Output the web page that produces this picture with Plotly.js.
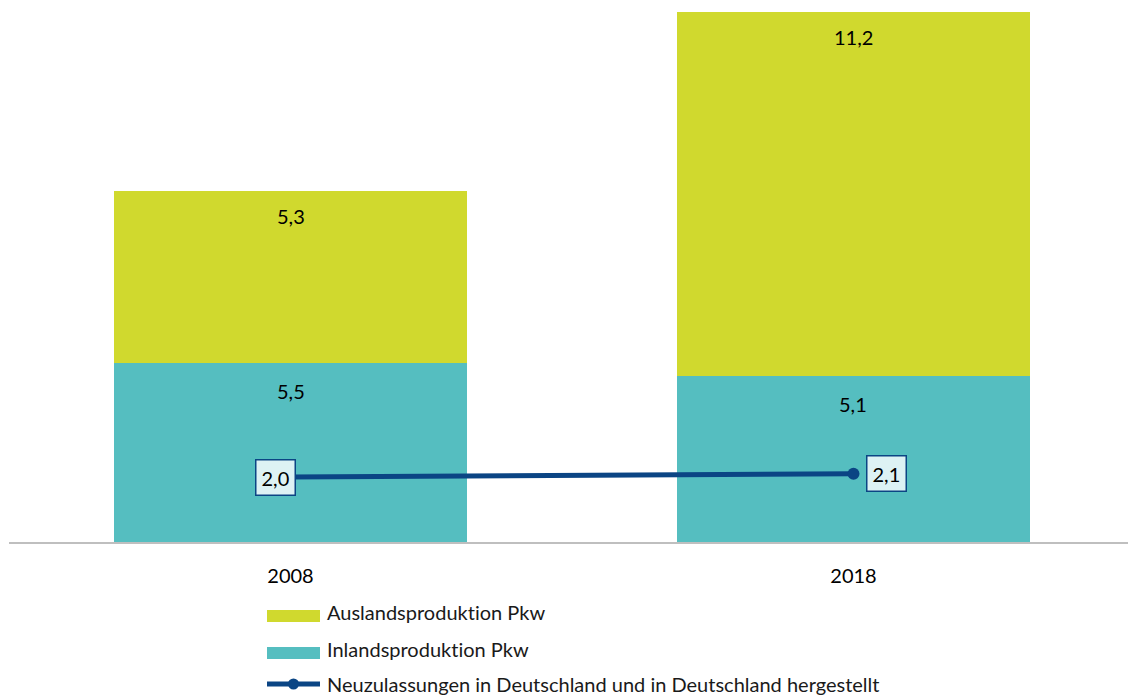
<!DOCTYPE html>
<html>
<head>
<meta charset="utf-8">
<script src="https://cdn.plot.ly/plotly-3.0.1.min.js"></script>
<style>html,body{margin:0;padding:0;background:#fff;}#chart{width:1128px;height:695px;}
svg text{font-variant-ligatures:none;font-feature-settings:"liga" 0, "clig" 0;}</style>
</head>
<body>
<div id="chart"></div>
<script>
// ---- data ----
const years = ['2008', '2018'];
const inland = [5.5, 5.1];
const ausland = [5.3, 11.2];
const neuzulassungen = [2.0, 2.1];
const seriesNames = ['Auslandsproduktion Pkw', 'Inlandsproduktion Pkw', 'Neuzulassungen in Deutschland und in Deutschland hergestellt'];

// ---- style ----
const C_AUS = '#D0D92E', C_IN = '#55BEC0', C_LINE = '#0B4584';
const FONT = 'Lato, "Source Sans Pro", "Noto Sans", sans-serif';
const fmt = v => v.toFixed(1).replace('.', ',');

const W = 1128, H = 695;
const mL = 9, mR = 0, mT = 0, mB = 153;
const pw = W - mL - mR, ph = H - mT - mB;
const px2x = px => (px - mL) / pw;
const py2y = py => (H - mB - py) / ph;

const traces = [
  {type: 'bar', name: seriesNames[1], x: years, y: inland, marker: {color: C_IN}, width: 0.627, hoverinfo: 'y', showlegend: false},
  {type: 'bar', name: seriesNames[0], x: years, y: ausland, marker: {color: C_AUS}, width: 0.627, hoverinfo: 'y', showlegend: false},
  {type: 'scatter', mode: 'lines+markers', name: seriesNames[2], x: years, y: neuzulassungen,
   line: {color: C_LINE, width: 5}, marker: {color: C_LINE, size: 12}, showlegend: false}
];

const annotations = [];
years.forEach((yr, i) => {
  annotations.push({x: i, y: inland[i], xref: 'x', yref: 'y', text: fmt(inland[i]), showarrow: false,
    yanchor: 'middle', yshift: -28, font: {family: FONT, size: 20, color: '#000'}});
  annotations.push({x: i, y: inland[i] + ausland[i], xref: 'x', yref: 'y', text: fmt(ausland[i]), showarrow: false,
    yanchor: 'middle', yshift: -25, font: {family: FONT, size: 20, color: '#000'}});
  annotations.push({x: i, y: neuzulassungen[i], xref: 'x', yref: 'y', text: fmt(neuzulassungen[i]), showarrow: false,
    xanchor: i === 0 ? 'center' : 'left', xshift: i === 0 ? -15 : 13,
    bgcolor: '#DDF2F4', bordercolor: C_LINE, borderwidth: 1.5, borderpad: 5,
    font: {family: FONT, size: 20, color: '#000'}});
});

// manual legend
const shapes = [];
const legRows = [612, 649, 684];
[C_AUS, C_IN].forEach((c, k) => {
  shapes.push({type: 'rect', xref: 'paper', yref: 'paper', x0: px2x(267), x1: px2x(320),
    y0: py2y(legRows[k] + 4 - 6), y1: py2y(legRows[k] + 4 + 6), fillcolor: c, line: {width: 0}});
});
shapes.push({type: 'line', xref: 'paper', yref: 'paper', x0: px2x(267), x1: px2x(320),
  y0: py2y(legRows[2]), y1: py2y(legRows[2]), line: {color: C_LINE, width: 5}});
shapes.push({type: 'circle', xref: 'paper', yref: 'paper', x0: px2x(288), x1: px2x(299),
  y0: py2y(legRows[2] - 5.5), y1: py2y(legRows[2] + 5.5), fillcolor: C_LINE, line: {width: 0}});
seriesNames.forEach((n, k) => {
  annotations.push({xref: 'paper', yref: 'paper', x: px2x(325), y: py2y(legRows[k]), text: n, showarrow: false,
    xanchor: 'left', yanchor: 'middle', font: {family: FONT, size: 20, color: '#1a1a1a'}});
});

const layout = {
  width: W, height: H,
  margin: {l: mL, r: mR, t: mT, b: mB, pad: 0},
  paper_bgcolor: '#fff', plot_bgcolor: '#fff',
  barmode: 'stack',
  showlegend: false,
  xaxis: {type: 'category', range: [-0.5, 1.4876], showline: true, linecolor: '#BFBFBF', linewidth: 2,
    showgrid: false, zeroline: false, ticks: '', ticklabelstandoff: 15,
    tickfont: {family: FONT, size: 20, color: '#000'}},
  yaxis: {range: [0, 16.68], visible: false, showgrid: false, zeroline: false},
  annotations: annotations,
  shapes: shapes,
  font: {family: FONT}
};

Plotly.newPlot('chart', traces, layout, {displayModeBar: false, staticPlot: true});
</script>
</body>
</html>
